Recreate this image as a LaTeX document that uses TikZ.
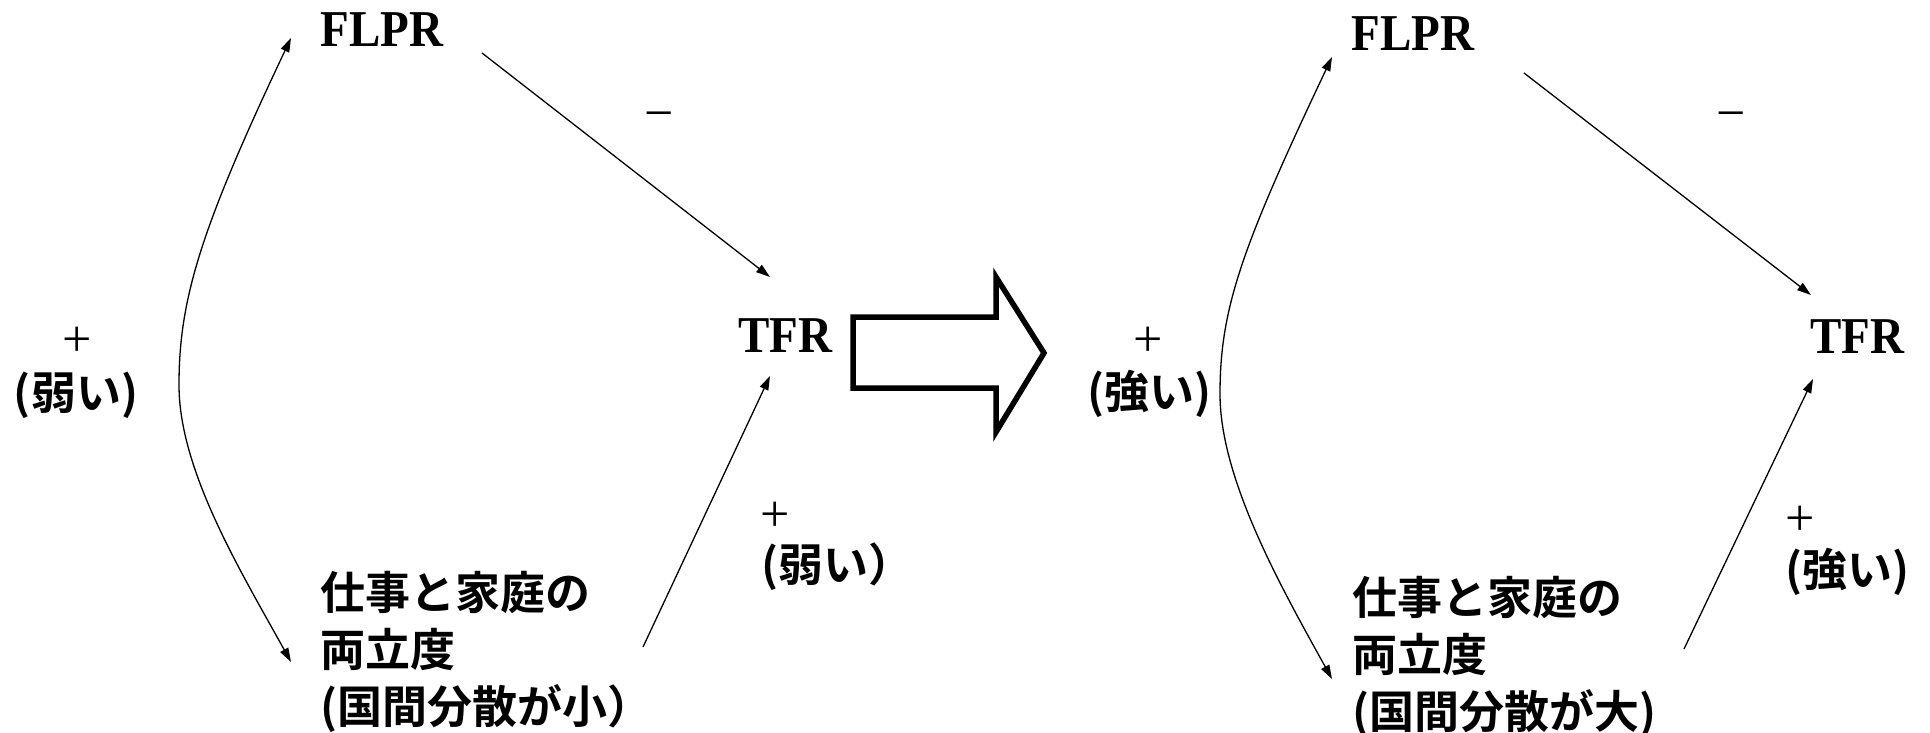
\documentclass[tikz,border=0pt]{standalone}
\usepackage{fontspec}
\setmainfont{Liberation Serif}
\newfontfamily\jp{Noto Sans CJK JP}[BoldFont={Noto Sans CJK JP Bold}]
\usetikzlibrary{arrows.meta}
\newcommand{\tallbf}[1]{\scalebox{1}[1.1]{#1}}
\begin{document}
\begin{tikzpicture}[x=1pt,y=-1pt,
  lbl/.style={inner sep=0pt, font=\fontsize{47}{56}\selectfont\bfseries},
  jtxt/.style={inner sep=0pt, align=left, font=\fontsize{45}{57}\selectfont\jp\bfseries},
  jlab/.style={inner sep=0pt, font=\fontsize{45}{57}\selectfont\jp\bfseries},
  sign/.style={inner sep=0pt, font=\fontsize{52}{60}\selectfont},
  conn/.style={line width=1.3pt, -{Triangle[length=14pt,width=9pt]}},
  bicon/.style={line width=1.3pt, {Triangle[length=14pt,width=9pt]}-{Triangle[length=14pt,width=9pt]}},
  bigarrow/.style={line width=5.5pt, miter limit=10}]
\useasboundingbox (0,0) rectangle (1930,733);

% ---------- left diagram ----------
\node[lbl, anchor=base] (flprL) at (382,47) {\tallbf{FLPR}};
\node[lbl, anchor=base] (tfrL) at (785,352) {\tallbf{TFR}};
\node[jtxt, anchor=north west] (jobL) at (320,571) {仕事と家庭の\\両立度\\(国間分散が小）};
\node[sign] (mL1) at (659,121) {−};
\node[sign] (pL1) at (77,342) {+};
\node[jlab] (wL1) at (76,395) {(弱い)};
\node[sign, anchor=west] (pL2) at (760,517) {+};
\node[jlab, anchor=west] (wL2) at (761,567) {(弱い）};

\coordinate (aL1s) at (482,53);
\coordinate (aL1e) at (770,277);
\coordinate (aL2s) at (643,647);
\coordinate (aL2e) at (770,376);
\coordinate (cLt) at (291,38);
\coordinate (cLb) at (291,662);
\coordinate (cLm) at (179,385);

\draw[conn] (aL1s) -- (aL1e);
\draw[conn] (aL2s) -- (aL2e);
\draw[bicon] (cLt) .. controls +(-91,192) and +(0,-85) .. (cLm)
             .. controls +(0,85) and +(-51,-92) .. (cLb);

% ---------- block arrow ----------
\draw[bigarrow] (853,317) -- (996,317) -- (996,277) -- (1044,353)
  -- (996,432) -- (996,388) -- (853,388) -- cycle;

% ---------- right diagram ----------
\node[lbl, anchor=base] (flprR) at (1413,51) {\tallbf{FLPR}};
\node[lbl, anchor=base] (tfrR) at (1857,353) {\tallbf{TFR}};
\node[jtxt, anchor=north west] (jobR) at (1352,576) {仕事と家庭の\\両立度\\(国間分散が大)};
\node[sign] (mR1) at (1731,121) {−};
\node[sign] (pR1) at (1148,342) {+};
\node[jlab] (sR1) at (1149,394) {(強い)};
\node[sign, anchor=west] (pR2) at (1785,521) {+};
\node[jlab, anchor=west] (sR2) at (1785,572) {(強い)};

\coordinate (aR1s) at (1524,73);
\coordinate (aR1e) at (1811,295);
\coordinate (aR2s) at (1684,649);
\coordinate (aR2e) at (1813,379);
\coordinate (cRt) at (1332,57);
\coordinate (cRb) at (1332,679);
\coordinate (cRm) at (1220,394);

\draw[conn] (aR1s) -- (aR1e);
\draw[conn] (aR2s) -- (aR2e);
\draw[bicon] (cRt) .. controls +(-91,192) and +(0,-85) .. (cRm)
             .. controls +(0,85) and +(-51,-92) .. (cRb);
\end{tikzpicture}
\end{document}
